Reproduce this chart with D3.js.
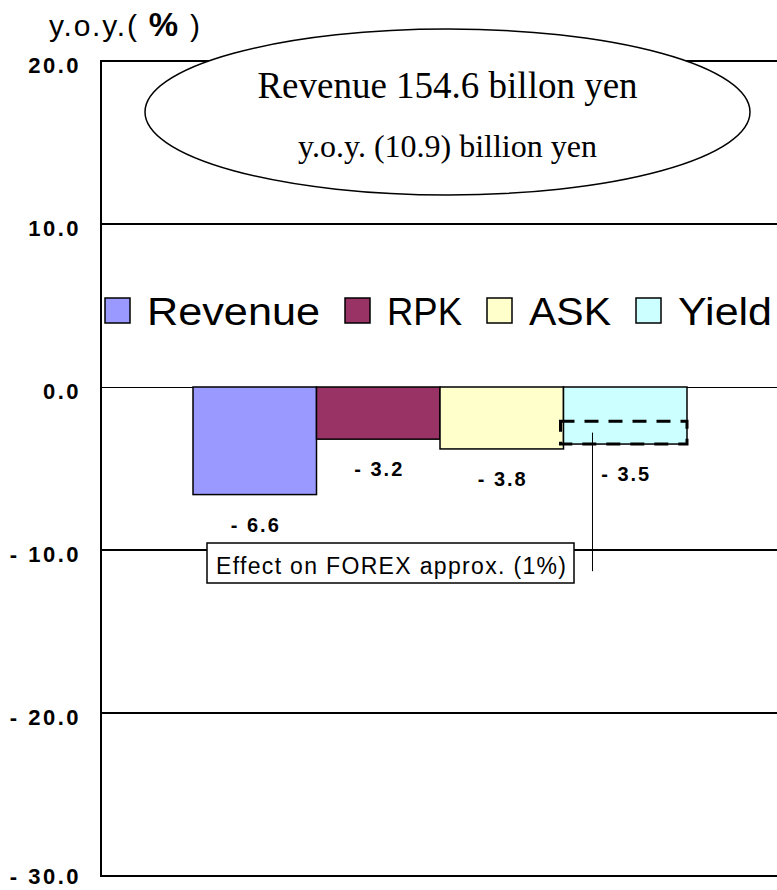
<!DOCTYPE html>
<html>
<head>
<meta charset="utf-8">
<script src="https://cdn.jsdelivr.net/npm/d3@7/dist/d3.min.js"></script>
<style>
    body { margin: 0; background: #fff; }
</style>
</head>
<body>
<script>
    // chart data
    var categories = ["Revenue", "RPK", "ASK", "Yield"];
    var values = [-6.6, -3.2, -3.8, -3.5];
    var colors = ["#9999FF", "#993366", "#FFFFCC", "#CCFFFF"];
    var yTicks = [20, 10, 0, -10, -20, -30];
    var legendWidths = [173, 75, 82, 94];
    var forexRange = [-2.1, -3.5];   // dashed box on Yield bar
    var forexNote = "Effect on FOREX approx. (1%)";
    var bubbleLines = ["Revenue 154.6 billon yen", "y.o.y. (10.9) billion yen"];

    var width = 777, height = 890;
    var margin = {top: 61, bottom: 14, left: 101, right: -2};

    var svg = d3.select("body")
        .append("svg")
        .attr("width", width)
        .attr("height", height);

    var x = d3.scaleBand()
        .domain(categories)
        .range([margin.left, width - margin.right])
        .paddingInner(0)
        .paddingOuter(0.745);

    var y = d3.scaleLinear()
        .domain([-30, 20])
        .range([height - margin.bottom, margin.top]);

    var fmt = function(v) {
        var s = d3.format(".1f")(Math.abs(v));
        return v < 0 ? "- " + s : s;
    };

    //grid lines
    svg.append("g")
        .selectAll("line")
        .data(yTicks)
        .enter()
        .append("line")
        .attr("x1", margin.left)
        .attr("x2", width)
        .attr("y1", d => y(d))
        .attr("y2", d => y(d))
        .attr("stroke", "#000")
        .attr("stroke-width", d => d == 0 ? 1 : 2)
        .attr("shape-rendering", "crispEdges");

    //left axis line
    svg.append("line")
        .attr("x1", margin.left)
        .attr("x2", margin.left)
        .attr("y1", y(20) - 1)
        .attr("y2", y(-30) + 1)
        .attr("stroke", "#000")
        .attr("stroke-width", 2)
        .attr("shape-rendering", "crispEdges");

    //tick labels
    svg.append("g")
        .selectAll("text")
        .data(yTicks)
        .enter()
        .append("text")
        .attr("x", 81)
        .attr("y", d => Math.min(y(d) + 11.5, height - 6))
        .attr("text-anchor", "end")
        .style("font-family", "Liberation Sans, Arial")
        .style("font-size", "22px")
        .style("font-weight", "bold")
        .style("letter-spacing", "2.5px")
        .text(d => fmt(d));

    //title
    var title = svg.append("text")
        .attr("x", 49)
        .attr("y", 36)
        .attr("textLength", 151)
        .attr("lengthAdjust", "spacing")
        .style("font-family", "Liberation Sans, Arial")
        .style("font-size", "30px");
    title.append("tspan").text("y.o.y.( ");
    title.append("tspan").style("font-weight", "bold").style("font-size", "33px").text("%");
    title.append("tspan").text(" )");

    //bubble
    svg.append("ellipse")
        .attr("cx", 447.5)
        .attr("cy", 112)
        .attr("rx", 302.5)
        .attr("ry", 83)
        .attr("fill", "#fff")
        .attr("stroke", "#000")
        .attr("stroke-width", 1.5);

    svg.append("g")
        .selectAll("text")
        .data(bubbleLines)
        .enter()
        .append("text")
        .attr("x", 447.5)
        .attr("y", (d, i) => i == 0 ? 98 : 157)
        .attr("text-anchor", "middle")
        .style("font-family", "Liberation Serif, Times New Roman")
        .style("font-size", (d, i) => i == 0 ? "37px" : "32px")
        .text(d => d);

    //legend
    var legend = svg.append("g").attr("id", "legend");
    var lx = 105;
    categories.forEach(function(c, i) {
        legend.append("rect")
            .attr("x", lx)
            .attr("y", 298)
            .attr("width", 25)
            .attr("height", 25)
            .attr("fill", colors[i])
            .attr("stroke", "#000")
            .attr("stroke-width", 1.5);
        legend.append("text")
            .attr("x", lx + 42)
            .attr("y", 325)
            .attr("textLength", legendWidths[i])
            .attr("lengthAdjust", "spacingAndGlyphs")
            .style("font-family", "Liberation Sans, Arial")
            .style("font-size", "38px")
            .text(c);
        lx += 42 + legendWidths[i] + 25;
    });

    //bars
    svg.append("g")
        .selectAll("rect")
        .data(values)
        .enter()
        .append("rect")
        .attr("x", (d, i) => x(categories[i]))
        .attr("y", y(0))
        .attr("width", x.bandwidth())
        .attr("height", d => y(d) - y(0))
        .attr("fill", (d, i) => colors[i])
        .attr("stroke", "#000")
        .attr("stroke-width", 1.5);

    //value labels
    svg.append("g")
        .selectAll("text")
        .data(values)
        .enter()
        .append("text")
        .attr("x", (d, i) => x(categories[i]) + x.bandwidth() / 2 + 1)
        .attr("y", d => y(d) + 37)
        .attr("text-anchor", "middle")
        .style("font-family", "Liberation Sans, Arial")
        .style("font-size", "20px")
        .style("font-weight", "bold")
        .style("letter-spacing", "2px")
        .text(d => fmt(d));

    //forex dashed box
    var yx = x("Yield");
    svg.append("rect")
        .attr("x", yx - 3)
        .attr("y", y(forexRange[0]))
        .attr("width", x.bandwidth() + 3)
        .attr("height", y(forexRange[1]) - y(forexRange[0]))
        .attr("fill", "none")
        .attr("stroke", "#000")
        .attr("stroke-width", 3)
        .attr("stroke-dasharray", "14,10");

    //leader line
    svg.append("line")
        .attr("x1", yx + 29)
        .attr("x2", yx + 29)
        .attr("y1", y((forexRange[0] + forexRange[1]) / 2))
        .attr("y2", y(-11.3))
        .attr("stroke", "#000")
        .attr("stroke-width", 1);

    //forex note box
    svg.append("rect")
        .attr("x", 207)
        .attr("y", 543)
        .attr("width", 367)
        .attr("height", 40)
        .attr("fill", "#fff")
        .attr("stroke", "#000")
        .attr("stroke-width", 1.5);

    svg.append("text")
        .attr("x", 216)
        .attr("y", 574)
        .attr("textLength", 350)
        .attr("lengthAdjust", "spacing")
        .style("font-family", "Liberation Sans, Arial")
        .style("font-size", "23px")
        .text(forexNote);
</script>
</body>
</html>
